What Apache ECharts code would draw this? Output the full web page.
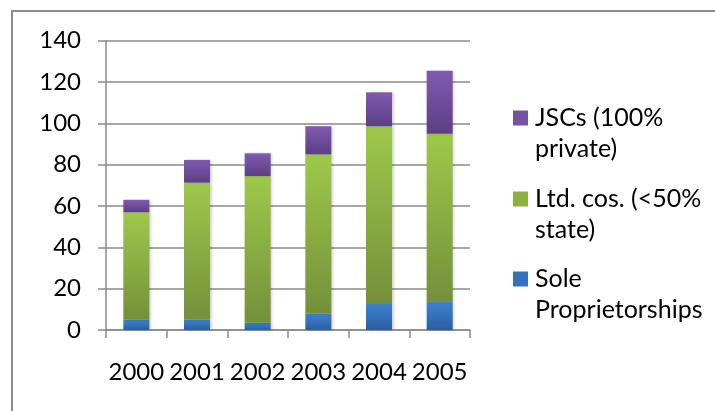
<!DOCTYPE html>
<html>
<head>
<meta charset="utf-8">
<script src="https://cdn.jsdelivr.net/npm/echarts@6/dist/echarts.min.js"></script>
<style>
  html, body { margin: 0; padding: 0; background: #fff; }
  #chart { width: 715px; height: 411px; }
</style>
</head>
<body>
<div id="chart"></div>
<script>
// Registered enterprises by legal form, 2000–2005 (stacked)
const years = ['2000', '2001', '2002', '2003', '2004', '2005'];
const soleProps = [5, 5, 3.5, 8, 13, 13.5];
const ltdCos = [52, 66.3, 71, 77, 85.6, 81.5];
const jscs = [6, 11, 11, 13.6, 16.4, 30.4];
const yTicks = { min: 0, max: 140, interval: 20 };

const nameSole = 'Sole Proprietorships';
const nameLtd = 'Ltd. cos. (<50% state)';
const nameJsc = 'JSCs (100% private)';
// a leading empty line keeps the swatch level with the first text line
const legendLines = {
  [nameJsc]: '\nJSCs (100%\nprivate)',
  [nameLtd]: '\nLtd. cos. (<50%\nstate)',
  [nameSole]: '\nSole\nProprietorships'
};

const FONT = 'Lato';
const GRID_GRAY = '#8a8a8a';

function vgrad(top, bottom) {
  return new echarts.graphic.LinearGradient(0, 0, 0, 1, [
    { offset: 0, color: top },
    { offset: 1, color: bottom }
  ]);
}

const colors = {
  sole: vgrad('#3d82d4', '#2b5e9f'),
  ltd: vgrad('#9dc94a', '#74903a'),
  jsc: vgrad('#8159b2', '#5c3f83')
};

const barStyle = (c) => ({
  color: c,
  shadowColor: 'rgba(0,0,0,0.22)',
  shadowBlur: 3,
  shadowOffsetX: 1.5,
  shadowOffsetY: 0
});

const LINE_H = 31;
function legendFor(name, iconColor, iconCenterY) {
  return {
    data: [{ name: name, itemStyle: { color: iconColor } }],
    orient: 'vertical',
    left: 513,
    top: iconCenterY - 1.5 * LINE_H,
    padding: 0,
    itemWidth: 15,
    itemHeight: 15,
    icon: 'rect',
    selectedMode: false,
    formatter: (n) => legendLines[n],
    textStyle: {
      fontFamily: FONT,
      fontSize: 25,
      color: '#000',
      lineHeight: LINE_H,
      padding: [0, 0, 0, 2]
    }
  };
}

const chart = echarts.init(document.getElementById('chart'), null, { renderer: 'canvas' });

chart.setOption({
  animation: false,
  backgroundColor: '#fff',
  graphic: [
    {
      type: 'polyline',
      silent: true,
      shape: { points: [[12, 411], [12, 11], [715, 11]] },
      style: { stroke: '#8c8c8c', lineWidth: 2, fill: null }
    }
  ],
  grid: { left: 106, right: 245, top: 40.7, bottom: 81, containLabel: false },
  legend: [
    legendFor(nameJsc, '#7453a0', 118),
    legendFor(nameLtd, '#8bb043', 199),
    legendFor(nameSole, '#3570bb', 279)
  ],
  xAxis: {
    type: 'category',
    data: years,
    axisLine: { show: true, lineStyle: { color: GRID_GRAY, width: 1.5 } },
    axisTick: { show: true, length: 8, inside: false, interval: 0, lineStyle: { color: GRID_GRAY, width: 1.5 } },
    axisLabel: { fontFamily: FONT, fontSize: 24, color: '#000', margin: 30, interval: 0 },
    splitLine: { show: false }
  },
  yAxis: {
    type: 'value',
    min: yTicks.min,
    max: yTicks.max,
    interval: yTicks.interval,
    axisLine: { show: true, lineStyle: { color: GRID_GRAY, width: 1.5 } },
    axisTick: { show: true, length: 8, lineStyle: { color: GRID_GRAY, width: 1.5 } },
    axisLabel: { fontFamily: FONT, fontSize: 24, color: '#000', margin: 25 },
    splitLine: { show: true, lineStyle: { color: GRID_GRAY, width: 1.5 } }
  },
  series: [
    { name: nameSole, type: 'bar', stack: 'total', barWidth: 26, data: soleProps, itemStyle: barStyle(colors.sole) },
    { name: nameLtd, type: 'bar', stack: 'total', barWidth: 26, data: ltdCos, itemStyle: barStyle(colors.ltd) },
    { name: nameJsc, type: 'bar', stack: 'total', barWidth: 26, data: jscs, itemStyle: barStyle(colors.jsc) }
  ]
});
</script>
</body>
</html>
